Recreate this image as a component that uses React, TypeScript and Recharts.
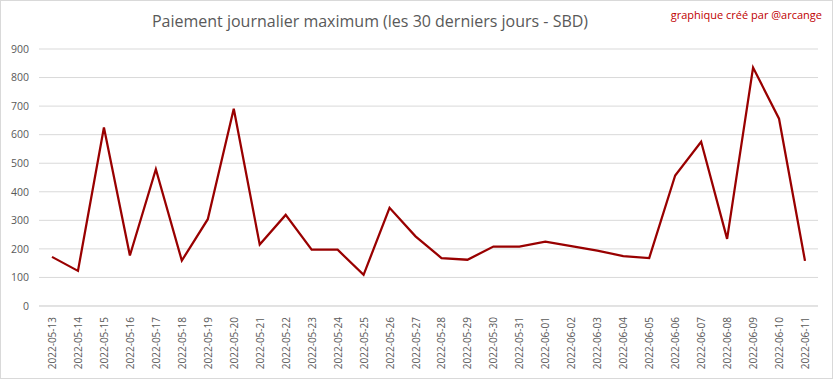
import React from "react";
import { LineChart, Line, XAxis, YAxis, CartesianGrid } from "recharts";

const dates = [
  "2022-05-13","2022-05-14","2022-05-15","2022-05-16","2022-05-17","2022-05-18","2022-05-19","2022-05-20",
  "2022-05-21","2022-05-22","2022-05-23","2022-05-24","2022-05-25","2022-05-26","2022-05-27","2022-05-28",
  "2022-05-29","2022-05-30","2022-05-31","2022-06-01","2022-06-02","2022-06-03","2022-06-04","2022-06-05",
  "2022-06-06","2022-06-07","2022-06-08","2022-06-09","2022-06-10","2022-06-11",
];
const payouts = [
  172, 123, 625, 177, 479, 159, 304, 691,
  215, 319, 197, 197, 109, 344, 244, 168,
  162, 208, 208, 225, 210, 194, 175, 168,
  457, 575, 235, 835, 656, 158,
];
const yTicks = [0, 100, 200, 300, 400, 500, 600, 700, 800, 900];

const data = dates.map((d, i) => ({ date: d, value: payouts[i] }));

const FONT = "'Open Sans', 'Liberation Sans', sans-serif";

const XTick = (props: any) => {
  const { x, y, payload } = props;
  return (
    <text
      x={x}
      y={y}
      transform={`rotate(-90, ${x}, ${y})`}
      textAnchor="end"
      dominantBaseline="central"
      fontSize={10}
      fill="#595959"
      fontFamily={FONT}
    >
      {payload.value}
    </text>
  );
};

export default function App() {
  return (
    <div style={{ position: "absolute", left: 0, top: 0, width: 833, height: 379, background: "#fff" }}>
      <div
        style={{
          position: "absolute", left: 0, top: 0, width: 831, height: 377,
          border: "1px solid #d9d9d9",
        }}
      />
      <div
        style={{
          position: "absolute", left: 0, width: 740, top: 10, textAlign: "center",
          fontFamily: FONT, fontSize: 16, color: "#595959", whiteSpace: "nowrap",
        }}
      >
        Paiement journalier maximum (les 30 derniers jours - SBD)
      </div>
      <div
        style={{
          position: "absolute", right: 11, top: 7,
          fontFamily: FONT, fontSize: 11, color: "#c00000", whiteSpace: "nowrap",
        }}
      >
        graphique créé par @arcange
      </div>
      <div style={{ position: "absolute", left: 0, top: 0 }}>
        <LineChart
          width={833}
          height={379}
          data={data}
          margin={{ top: 49, right: 15, bottom: 8, left: 0 }}
        >
          <CartesianGrid vertical={false} stroke="#d9d9d9" strokeWidth={1} />
          <XAxis
            dataKey="date"
            interval={0}
            height={65}
            tickLine={false}
            axisLine={{ stroke: "#d9d9d9" }}
            tick={<XTick />}
            tickMargin={5}
            padding={{ left: 13, right: 13 }}
          />
          <YAxis
            width={39}
            domain={[0, 900]}
            ticks={yTicks}
            tickLine={false}
            axisLine={false}
            tickMargin={4}
            tick={{ fontSize: 10.5, fill: "#595959", fontFamily: FONT }}
          />
          <Line
            type="linear"
            dataKey="value"
            stroke="#990000"
            strokeWidth={2.25}
            dot={false}
            isAnimationActive={false}
          />
        </LineChart>
      </div>
    </div>
  );
}
